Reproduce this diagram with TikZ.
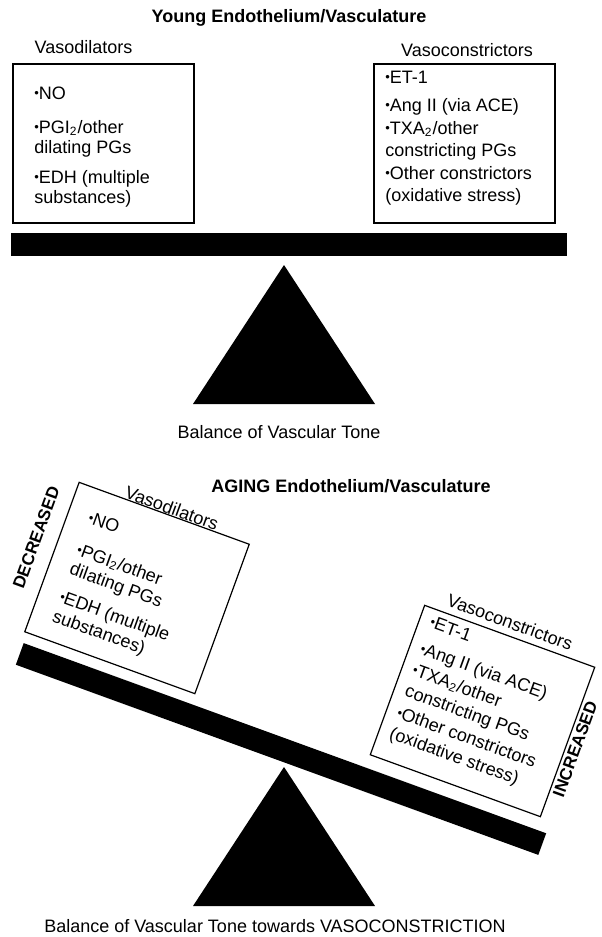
\documentclass[tikz,border=0pt]{standalone}
\usepackage{fontspec}
\setmainfont{Liberation Sans}
\usetikzlibrary{positioning}
\newcommand{\bul}{\raisebox{0.8pt}{\fontsize{6.5}{6.5}\selectfont\textbullet}}

\begin{document}
\begin{tikzpicture}[x=0.5pt, y=-0.5pt,
	box/.style={draw, line width=0.6pt, minimum width=90.5pt, minimum height=79.5pt, inner sep=0pt},
	ttl/.style={font=\bfseries\fontsize{9}{11}\selectfont},
	lbl/.style={font=\fontsize{9}{11}\selectfont},
	dtxt/.style={font=\fontsize{9}{10.3}\selectfont, align=left, inner sep=0pt, anchor=north west},
	ctxt/.style={font=\fontsize{9}{11}\selectfont, align=left, inner sep=0pt, anchor=north west},
	tag/.style={font=\bfseries\fontsize{8.5}{10}\selectfont, rotate=90}]
	\useasboundingbox (0,0) rectangle (601,937);

	% young
	\node[ttl] (young) at (289,18) {Young Endothelium/Vasculature};
	\begin{scope}[shift={(103.5,143.5)}]
		\node[box] (dil1) at (0,0) {};
		\node[lbl] (dillbl1) at (-20,-96) {Vasodilators};
		\node[dtxt] (diltxt1) at (-69.5,-57) {\bul NO\\[6.5pt]
			\bul PGI\textsubscript{2}/other\\ dilating PGs\\[4.5pt]
			\bul EDH (multiple\\ substances)};
	\end{scope}
	\begin{scope}[shift={(464.5,143.5)}]
		\node[box] (con1) at (0,0) {};
		\node[lbl] (conlbl1) at (2.5,-93.5) {Vasoconstrictors};
		\node[ctxt] (contxt1) at (-79.5,-73) {\bul ET-1\\[3pt]
			\bul Ang II (via ACE)\\[0.5pt]
			\bul TXA\textsubscript{2}/other\\ constricting PGs\\[0.5pt]
			\bul Other constrictors\\ (oxidative stress)};
	\end{scope}
	\fill (11,233) rectangle (567,256);
	\fill (193,404) -- (375,404) -- (284,265) -- cycle;
	\node[lbl] (tone1) at (279,432) {Balance of Vascular Tone};

	% aging
	\node[ttl] (aging) at (351,486) {AGING Endothelium/Vasculature};
	\begin{scope}[shift={(137,588)}, rotate=-20, transform shape]
		\node[box] (dil2) at (0,0) {};
		\node[lbl] (dillbl2) at (5.5,-87) {Vasodilators};
		\node[dtxt] (diltxt2) at (-69.5,-57) {\bul NO\\[6.5pt]
			\bul PGI\textsubscript{2}/other\\ dilating PGs\\[4.5pt]
			\bul EDH (multiple\\ substances)};
		\node[tag] (decr) at (-112,-13) {DECREASED};
	\end{scope}
	\begin{scope}[shift={(482.5,711)}, rotate=-20, transform shape]
		\node[box] (con2) at (0,0) {};
		\node[lbl] (conlbl2) at (-4.5,-93) {Vasoconstrictors};
		\node[ctxt] (contxt2) at (-79.5,-73) {\bul ET-1\\[3pt]
			\bul Ang II (via ACE)\\[0.5pt]
			\bul TXA\textsubscript{2}/other\\ constricting PGs\\[0.5pt]
			\bul Other constrictors\\ (oxidative stress)};
		\node[tag] (incr) at (100,4) {INCREASED};
	\end{scope}
	\fill[rotate around={-20:(281,749)}] (3,737.5) rectangle (559,760.5);
	\fill (193,906) -- (375,906) -- (284,767) -- cycle;
	\node[lbl] (tone2) at (275,926) {Balance of Vascular Tone towards VASOCONSTRICTION};
\end{tikzpicture}
\end{document}
